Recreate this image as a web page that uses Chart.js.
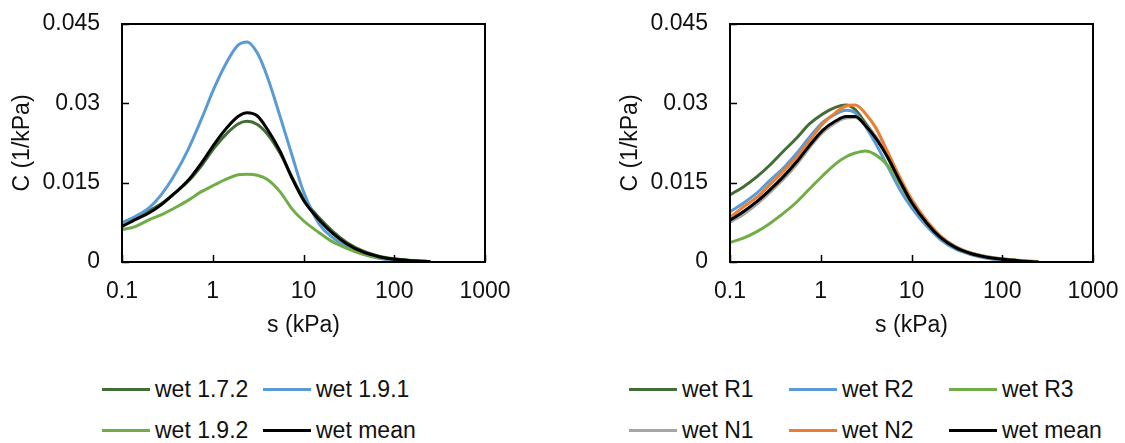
<!DOCTYPE html>
<html>
<head>
<meta charset="utf-8">
<script src="https://cdn.jsdelivr.net/npm/chart.js@4.4.1/dist/chart.umd.min.js"></script>
<style>
  body { margin: 0; width: 1125px; height: 443px; background: #fff; position: relative; overflow: hidden; font-family: "Liberation Sans", Arial, sans-serif; }
  .wrap { position: absolute; top: 0; width: 517px; height: 350px; }
  .lg-line { position: absolute; height: 3px; width: 48px; }
  .lg-text { position: absolute; font-size: 23px; color: #111; line-height: 26px; white-space: nowrap; }
</style>
</head>
<body>
<div class="wrap" style="left:0"><canvas id="chartLeft" width="517" height="350"></canvas></div>
<div class="wrap" style="left:608px"><canvas id="chartRight" width="517" height="350"></canvas></div>
<div id="legends"></div>
<script>
// suction values (kPa), shared by all curves
const suction = [0.1, 0.14, 0.2, 0.27, 0.38, 0.54, 0.75, 1.05, 1.47, 1.9, 2.4, 3.1, 4, 5.5, 7.5, 10, 15, 21, 30, 45, 68, 100, 160, 250];

const xTicks = [0.1, 1, 10, 100, 1000];
const xTickLabels = ["0.1", "1", "10", "100", "1000"];
const yTicks = [0, 0.015, 0.03, 0.045];
const yTickLabels = ["0", "0.015", "0.03", "0.045"];

// left chart
const leftNames = ["wet 1.7.2", "wet 1.9.1", "wet 1.9.2", "wet mean"];
const wet172 = [0.0074, 0.0085, 0.0097, 0.0110, 0.0130, 0.0153, 0.0182, 0.0217, 0.0245, 0.0261, 0.0266, 0.0260, 0.0242, 0.0206, 0.0160, 0.0120, 0.0083, 0.0058, 0.0037, 0.0021, 0.0011, 0.0006, 0.0003, 0.0001];
const wet191 = [0.0073, 0.0086, 0.0103, 0.0127, 0.0165, 0.0214, 0.0270, 0.0331, 0.0382, 0.0410, 0.0416, 0.0395, 0.0350, 0.0276, 0.0201, 0.0133, 0.0071, 0.0046, 0.0028, 0.0015, 0.0007, 0.0003, 0.0000, 0.0000];
const wet192 = [0.0061, 0.0067, 0.0080, 0.0089, 0.0102, 0.0117, 0.0133, 0.0146, 0.0158, 0.0165, 0.0166, 0.0164, 0.0156, 0.0133, 0.0100, 0.0078, 0.0055, 0.0038, 0.0026, 0.0015, 0.0008, 0.0005, 0.0002, 0.0000];
const wetMeanLeft = [0.0067, 0.0080, 0.0093, 0.0108, 0.0130, 0.0155, 0.0187, 0.0224, 0.0256, 0.0275, 0.0282, 0.0276, 0.0251, 0.0210, 0.0158, 0.0117, 0.0079, 0.0054, 0.0034, 0.0019, 0.0010, 0.0005, 0.00025, 0.0001];

// right chart
const rightNames = ["wet R1", "wet R2", "wet R3", "wet N1", "wet N2", "wet mean"];
const wetR1 = [0.0127, 0.0142, 0.0162, 0.0182, 0.0208, 0.0234, 0.0261, 0.0280, 0.0293, 0.0297, 0.0288, 0.0263, 0.0237, 0.0197, 0.0150, 0.0111, 0.0072, 0.0046, 0.0028, 0.0016, 0.0009, 0.0005, 0.0002, 0.0000];
const wetR2 = [0.0095, 0.0111, 0.0131, 0.0153, 0.0176, 0.0205, 0.0236, 0.0264, 0.0280, 0.0287, 0.0282, 0.0257, 0.0225, 0.0180, 0.0136, 0.0103, 0.0066, 0.0042, 0.0025, 0.0014, 0.0007, 0.0003, 0.0001, 0.0000];
const wetR3 = [0.0037, 0.0045, 0.0058, 0.0072, 0.0091, 0.0113, 0.0138, 0.0163, 0.0186, 0.0199, 0.0206, 0.0210, 0.0203, 0.0182, 0.0148, 0.0112, 0.0072, 0.0047, 0.0029, 0.0017, 0.0010, 0.0006, 0.0003, 0.0001];
const wetN1 = [0.0075, 0.0090, 0.0110, 0.0130, 0.0155, 0.0184, 0.0216, 0.0245, 0.0264, 0.0272, 0.0273, 0.0259, 0.0238, 0.0201, 0.0157, 0.0117, 0.0076, 0.0049, 0.0030, 0.0017, 0.0010, 0.0005, 0.0002, 0.0000];
const wetN2 = [0.0084, 0.0104, 0.0123, 0.0145, 0.0170, 0.0198, 0.0229, 0.0261, 0.0283, 0.0295, 0.0297, 0.0281, 0.0255, 0.0207, 0.0159, 0.0119, 0.0076, 0.0048, 0.0029, 0.0016, 0.0009, 0.0005, 0.0002, 0.0000];
const wetMeanRight = [0.0079, 0.0095, 0.0115, 0.0135, 0.0160, 0.0189, 0.0220, 0.0249, 0.0267, 0.0275, 0.0275, 0.0258, 0.0235, 0.0197, 0.0152, 0.0113, 0.0072, 0.0046, 0.0028, 0.0016, 0.0009, 0.0005, 0.0002, 0.0000];

const leftColors = ["#426d34", "#5b9bd5", "#70ad47", "#000000"];
const rightColors = ["#426d34", "#5b9bd5", "#70ad47", "#a5a5a5", "#ed7d31", "#000000"];

const fontFamily = "'Liberation Sans', Arial, sans-serif";
const fontSize = 23;
const textColor = "#111";

// box round the plot area plus the small inside tick marks
const frameTicks = {
    id: "frameTicks",
    afterDatasetsDraw(chart) {
        const { ctx, chartArea: a, scales } = chart;
        ctx.save();
        ctx.strokeStyle = "#000";
        ctx.lineWidth = 1.5;
        ctx.beginPath();
        scales.x.ticks.forEach((t) => {
            const px = Math.round(scales.x.getPixelForValue(t.value)) + 0.5;
            ctx.moveTo(px, a.bottom);
            ctx.lineTo(px, a.bottom - 7);
        });
        scales.y.ticks.forEach((t) => {
            const py = Math.round(scales.y.getPixelForValue(t.value)) + 0.5;
            ctx.moveTo(a.left, py);
            ctx.lineTo(a.left + 7, py);
        });
        ctx.stroke();
        ctx.lineWidth = 2;
        ctx.strokeRect(a.left, a.top, a.right - a.left, a.bottom - a.top);
        ctx.restore();
    },
};

const makeChart = (canvasId, names, colors, series) => {
    const n = series.length;
    const datasets = series.map((vals, i) => ({
        label: names[i],
        data: suction.map((s, j) => ({ x: s, y: vals[j] })),
        borderColor: colors[i],
        backgroundColor: colors[i],
        borderWidth: 3,
        pointRadius: 0,
        cubicInterpolationMode: "monotone",
        fill: false,
        order: n - i,
    }));

    const ctx = document.getElementById(canvasId).getContext("2d");
    return new Chart(ctx, {
        type: "line",
        data: { datasets },
        options: {
            responsive: false,
            animation: false,
            devicePixelRatio: 1,
            layout: { padding: { left: 9, right: 32, top: 24, bottom: 0 } },
            plugins: { legend: { display: false }, tooltip: { enabled: false } },
            scales: {
                x: {
                    type: "logarithmic",
                    min: 0.1,
                    max: 1000,
                    grid: { display: false, drawTicks: false },
                    border: { display: false },
                    afterBuildTicks: (scale) => {
                        scale.ticks = xTicks.map((v) => ({ value: v }));
                    },
                    afterFit: (scale) => {
                        scale.height = 88;
                        scale.paddingLeft = 0;
                        scale.paddingRight = 0;
                    },
                    ticks: {
                        autoSkip: false,
                        maxRotation: 0,
                        padding: 16,
                        color: textColor,
                        font: { family: fontFamily, size: fontSize },
                        callback: (v, i) => xTickLabels[i],
                    },
                    title: {
                        display: true,
                        text: "s (kPa)",
                        color: textColor,
                        font: { family: fontFamily, size: fontSize },
                        padding: { top: 0, bottom: 11 },
                    },
                },
                y: {
                    min: 0,
                    max: 0.045,
                    grid: { display: false, drawTicks: false },
                    border: { display: false },
                    afterBuildTicks: (scale) => {
                        scale.ticks = yTicks.map((v) => ({ value: v }));
                    },
                    afterFit: (scale) => {
                        scale.width = 113;
                        scale.paddingTop = 0;
                        scale.paddingBottom = 0;
                    },
                    ticks: {
                        padding: 22,
                        color: textColor,
                        font: { family: fontFamily, size: fontSize },
                        callback: (v, i) => yTickLabels[i],
                    },
                    title: {
                        display: true,
                        text: "C (1/kPa)",
                        color: textColor,
                        font: { family: fontFamily, size: fontSize },
                        padding: 0,
                    },
                },
            },
        },
        plugins: [frameTicks],
    });
};

makeChart("chartLeft", leftNames, leftColors, [wet172, wet191, wet192, wetMeanLeft]);
makeChart("chartRight", rightNames, rightColors, [wetR1, wetR2, wetR3, wetN1, wetN2, wetMeanRight]);

// legends under each chart, laid out in rows like the original
const addLegend = (names, colors, colX, rowY, perRow) => {
    const box = document.getElementById("legends");
    names.forEach((name, i) => {
        const x = colX[i % perRow];
        const y = rowY[Math.floor(i / perRow)];
        const line = document.createElement("div");
        line.className = "lg-line";
        line.style.left = x + "px";
        line.style.top = (y - 1.5) + "px";
        line.style.background = colors[i];
        box.appendChild(line);
        const txt = document.createElement("div");
        txt.className = "lg-text";
        txt.style.left = (x + 53) + "px";
        txt.style.top = (y - 13) + "px";
        txt.textContent = name;
        box.appendChild(txt);
    });
};

addLegend(leftNames, leftColors, [102, 263], [389, 430], 2);
addLegend(rightNames, rightColors, [629, 789, 949], [389, 430], 3);
</script>
</body>
</html>
